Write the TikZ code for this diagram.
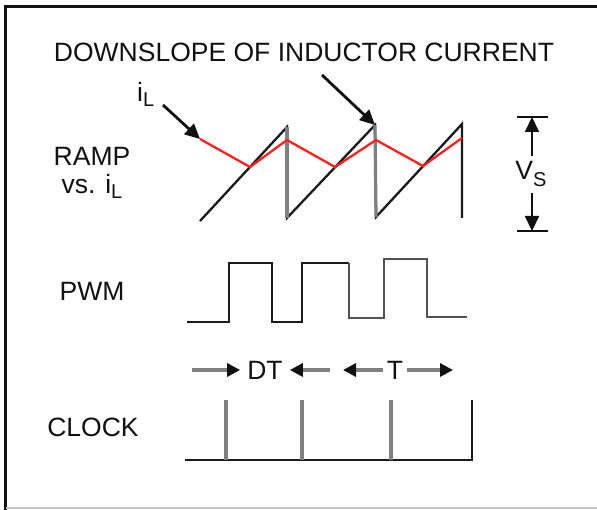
\documentclass[tikz,border=0pt]{standalone}
\usepackage{fontspec}
\setmainfont{Liberation Sans}
\usetikzlibrary{arrows.meta}
\definecolor{ink}{HTML}{111111}
\definecolor{wave}{HTML}{1A1A1A}
\definecolor{ired}{HTML}{FF2020}
\definecolor{tick}{HTML}{808080}
\definecolor{pale}{HTML}{C4C4C4}
\tikzset{
  sigtext/.style={text=ink, inner sep=0pt, font=\fontsize{26.5}{28}\selectfont},
  ramp/.style={draw=wave, line width=2.3pt, line join=miter},
  current/.style={draw=ired, line width=2.3pt, line join=miter},
  pwm/.style={draw=wave, line width=2.3pt, line join=miter},
  clk/.style={draw=tick, line width=3.2pt},
  pointer/.style={-{Triangle[length=15pt,width=14pt]}, draw=ink, line width=2.8pt},
  dimarrow/.style={-{Triangle[length=13pt,width=13pt,color=ink]}, draw=tick, line width=3.2pt},
  bar/.style={draw=ink, line width=2.8pt}
}
\newcommand{\lowsub}[2][5pt]{\raisebox{-#1}{\fontsize{20}{20}\selectfont #2}}

\begin{document}
\begin{tikzpicture}[x=1pt,y=-1pt]
  \useasboundingbox (0,0) rectangle (597,510);
  \fill[white] (0,0) rectangle (597,510);

  % Frame.
  \draw[draw=ink, line width=3pt] (5.5,510) -- (5.5,6.5) -- (597,6.5);
  \draw[draw=pale, line width=1.4pt] (5.5,508) -- (597,508);

  % Labels.
  \node[sigtext, anchor=base] (title) at (304,62) {DOWNSLOPE OF INDUCTOR CURRENT};
  \node[sigtext, anchor=base west] (il) at (137,102) {i\lowsub{L}};
  \node[sigtext, anchor=base] (ramplbl) at (92,166) {RAMP};
  \node[sigtext, anchor=base] (vslbl) at (92,194) {vs. i\lowsub{L}};
  \node[sigtext, anchor=base] (pwmlbl) at (92,301) {PWM};
  \node[sigtext, anchor=base] (clklbl) at (93,436) {CLOCK};

  % Ramp vs. inductor current.
  \coordinate (r0) at (200,221);
  \coordinate (r1) at (287,127);
  \coordinate (r2) at (287,218);
  \coordinate (r3) at (375,125);
  \coordinate (r4) at (376,217);
  \coordinate (r5) at (462,124);
  \coordinate (r6) at (462,218);
  \draw[ramp] (r0) -- (r1) -- (r2) -- (r3) -- (r4) -- (r5) -- (r6);
  \draw[clk] (r1) -- (r2);
  \draw[clk] (r3) -- (r4);

  \coordinate (i0) at (200,139);
  \coordinate (i1) at (250,167);
  \coordinate (i2) at (287,140);
  \coordinate (i3) at (335,167);
  \coordinate (i4) at (376,140);
  \coordinate (i5) at (423,166);
  \coordinate (i6) at (462,138);
  \draw[current] (i0) -- (i1) -- (i2) -- (i3) -- (i4) -- (i5) -- (i6);

  \coordinate (iltail) at (163,105);
  \draw[pointer] (iltail) -- (i0);
  \coordinate (downtail) at (322,75);
  \draw[pointer] (downtail) -- (r3);

  % Ramp amplitude.
  \node[sigtext, anchor=base, inner ysep=6pt] (vs) at (531,180) {V\lowsub[7pt]{S}};
  \coordinate (vstop) at (532,117);
  \coordinate (vsbot) at (532,231);
  \draw[bar] ([xshift=-15pt]vstop) -- ([xshift=16pt]vstop);
  \draw[bar] ([xshift=-15pt]vsbot) -- ([xshift=16pt]vsbot);
  \draw[pointer, line width=2pt] (vs.north -| vstop) -- (vstop);
  \draw[pointer, line width=2pt] (vs.south -| vsbot) -- (vsbot);

  % PWM.
  \draw[pwm] (187,322) -- (229,322) -- (229,263) -- (272,263) -- (272,322)
    -- (302,322) -- (302,263) -- (349,263);
  \draw[pwm, draw=wave!75, line width=2.8pt] (349,263) -- (349,318) -- (384,318)
    -- (384,259) -- (427,259) -- (427,317) -- (467,317);

  % Duty and period marks.
  \node[sigtext, inner xsep=7pt] (dt) at (265,370) {DT};
  \node[sigtext, inner xsep=4pt] (per) at (395,370) {T};
  \coordinate (dtl) at (192,370);
  \coordinate (dtr) at (330,370);
  \coordinate (perl) at (343,370);
  \coordinate (perr) at (453,370);
  \draw[dimarrow] (dtl) -- (dt.west);
  \draw[dimarrow] (dtr) -- (dt.east);
  \draw[dimarrow] (per.west) -- (perl);
  \draw[dimarrow] (per.east) -- (perr);

  % Clock.
  \draw[ramp] (185,460) -- (472,460) -- (472,400);
  \foreach \x in {226,302,391} {
    \draw[clk] (\x,460) -- (\x,400);
  }

\end{tikzpicture}
\end{document}
